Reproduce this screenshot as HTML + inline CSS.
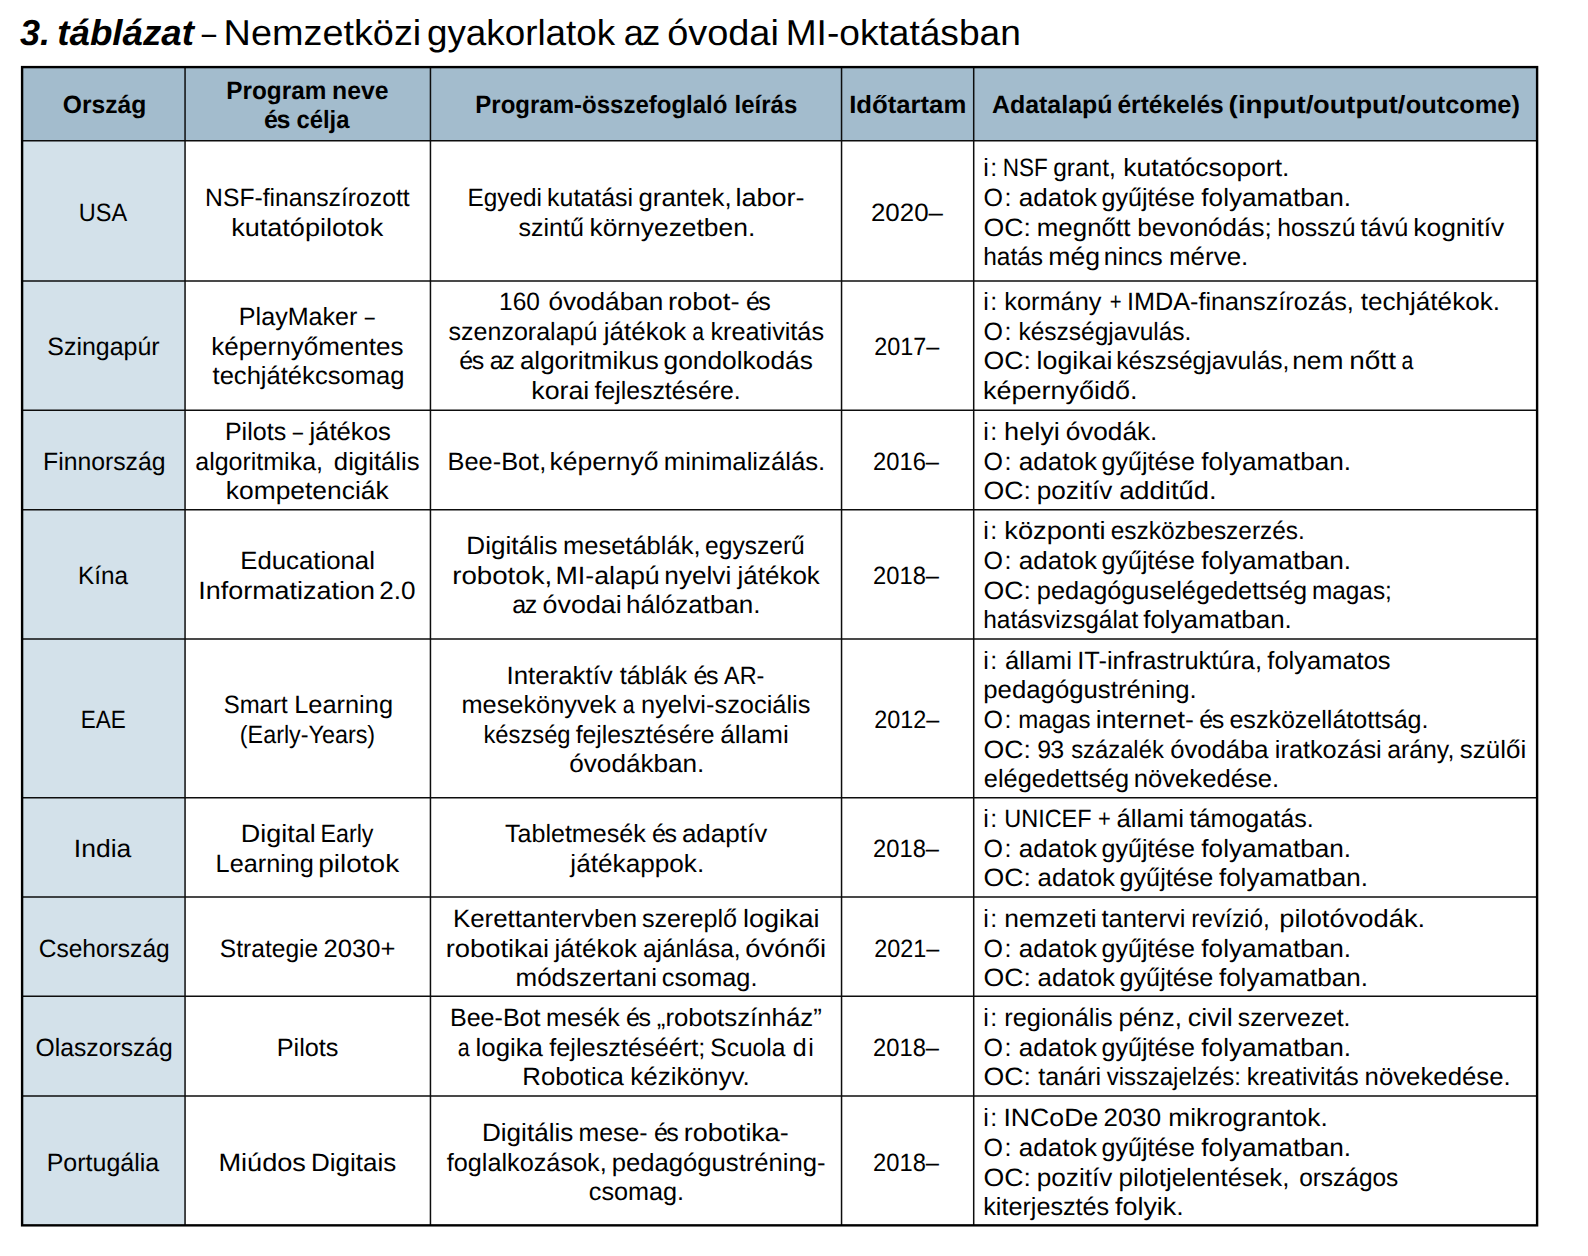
<!DOCTYPE html>
<html lang="hu"><head><meta charset="utf-8"><title>3. táblázat</title>
<style>
html,body{margin:0;padding:0;background:#fff;}
body{width:1588px;height:1256px;position:relative;overflow:hidden;font-family:'Liberation Sans',sans-serif;color:#000;}
svg{position:absolute;left:0;top:0;}
.t{position:absolute;left:0;top:0;white-space:pre;line-height:40px;font-kerning:normal;text-rendering:geometricPrecision;transform-origin:0 0;}
.r{font-size:25px;font-weight:400;}
.b{font-size:25px;font-weight:700;}
.tt{font-size:36px;font-weight:400;}
.tbi{font-size:36px;font-weight:700;font-style:italic;}
</style></head>
<body>
<svg width="1588" height="1256" viewBox="0 0 1588 1256">
<rect x="22.1" y="67.1" width="1515" height="73.6" fill="#a3bccd"/>
<rect x="22.1" y="140.7" width="162.95" height="1084.65" fill="#d3e1ea"/>
<line x1="22.1" y1="140.7" x2="1537.1" y2="140.7" stroke="#0d0d0d" stroke-width="1.5"/>
<line x1="22.1" y1="281.1" x2="1537.1" y2="281.1" stroke="#0d0d0d" stroke-width="1.5"/>
<line x1="22.1" y1="410.3" x2="1537.1" y2="410.3" stroke="#0d0d0d" stroke-width="1.5"/>
<line x1="22.1" y1="509.8" x2="1537.1" y2="509.8" stroke="#0d0d0d" stroke-width="1.5"/>
<line x1="22.1" y1="638.95" x2="1537.1" y2="638.95" stroke="#0d0d0d" stroke-width="1.5"/>
<line x1="22.1" y1="797.75" x2="1537.1" y2="797.75" stroke="#0d0d0d" stroke-width="1.5"/>
<line x1="22.1" y1="897" x2="1537.1" y2="897" stroke="#0d0d0d" stroke-width="1.5"/>
<line x1="22.1" y1="996.35" x2="1537.1" y2="996.35" stroke="#0d0d0d" stroke-width="1.5"/>
<line x1="22.1" y1="1096.1" x2="1537.1" y2="1096.1" stroke="#0d0d0d" stroke-width="1.5"/>
<line x1="185.05" y1="67.1" x2="185.05" y2="1225.35" stroke="#0d0d0d" stroke-width="1.5"/>
<line x1="430.45" y1="67.1" x2="430.45" y2="1225.35" stroke="#0d0d0d" stroke-width="1.5"/>
<line x1="841.55" y1="67.1" x2="841.55" y2="1225.35" stroke="#0d0d0d" stroke-width="1.5"/>
<line x1="973.7" y1="67.1" x2="973.7" y2="1225.35" stroke="#0d0d0d" stroke-width="1.5"/>
<rect x="22.1" y="67.1" width="1515" height="1158.25" fill="none" stroke="#000" stroke-width="2.4"/>
</svg>
<span class="t tbi" style="letter-spacing:-0.17px;transform:translate(20.06px,13.00px) scaleX(1.0000)">3. </span>
<span class="t tbi" style="transform:translate(57.23px,13.00px) scaleX(1.0202)">táblázat </span>
<span class="t tt" style="transform:translate(201.80px,13.00px) scaleX(0.7173)">– </span>
<span class="t tt" style="transform:translate(223.58px,13.00px) scaleX(1.0510)">Nemzetközi </span>
<span class="t tt" style="transform:translate(426.99px,13.00px) scaleX(1.0216)">gyakorlatok </span>
<span class="t tt" style="letter-spacing:-1.50px;transform:translate(623.73px,13.00px) scaleX(1.0000)">az </span>
<span class="t tt" style="transform:translate(667.19px,13.00px) scaleX(1.0526)">óvodai </span>
<span class="t tt" style="transform:translate(785.69px,13.00px) scaleX(1.0307)">MI-oktatásban</span>
<span class="t b" style="transform:translate(62.74px,85.00px) scaleX(0.9857)">Ország</span>
<span class="t b" style="transform:translate(226.30px,71.00px) scaleX(0.9729)">Program </span>
<span class="t b" style="transform:translate(332.07px,71.00px) scaleX(0.9904)">neve</span>
<span class="t b" style="letter-spacing:-1.50px;transform:translate(264.00px,100.00px) scaleX(1.0000)">és </span>
<span class="t b" style="transform:translate(296.53px,100.00px) scaleX(0.9519)">célja</span>
<span class="t b" style="transform:translate(475.35px,85.00px) scaleX(0.9602)">Program-összefoglaló </span>
<span class="t b" style="transform:translate(734.62px,85.00px) scaleX(0.9583)">leírás</span>
<span class="t b" style="transform:translate(849.15px,85.00px) scaleX(1.0280)">Időtartam</span>
<span class="t b" style="transform:translate(991.89px,85.00px) scaleX(0.9981)">Adatalapú </span>
<span class="t b" style="transform:translate(1117.50px,85.00px) scaleX(0.9791)">értékelés </span>
<span class="t b" style="transform:translate(1228.61px,85.00px) scaleX(1.1129)">(input/</span>
<span class="t b" style="transform:translate(1313.03px,85.00px) scaleX(1.0913)">output/</span>
<span class="t b" style="transform:translate(1405.64px,85.00px) scaleX(1.0162)">outcome)</span>
<span class="t r" style="transform:translate(78.73px,193.00px) scaleX(0.9413)">USA</span>
<span class="t r" style="transform:translate(47.29px,327.00px) scaleX(0.9982)">Szingapúr</span>
<span class="t r" style="transform:translate(42.99px,442.00px) scaleX(0.9911)">Finnország</span>
<span class="t r" style="transform:translate(78.01px,556.00px) scaleX(0.9727)">Kína</span>
<span class="t r" style="transform:translate(80.78px,700.00px) scaleX(0.9000)">EAE</span>
<span class="t r" style="transform:translate(73.83px,829.00px) scaleX(1.0604)">India</span>
<span class="t r" style="transform:translate(38.67px,929.00px) scaleX(0.9824)">Csehország</span>
<span class="t r" style="transform:translate(35.58px,1028.00px) scaleX(0.9876)">Olaszország</span>
<span class="t r" style="transform:translate(46.68px,1143.00px) scaleX(0.9991)">Portugália</span>
<span class="t r" style="transform:translate(205.10px,178.00px) scaleX(0.9879)">NSF-finanszírozott</span>
<span class="t r" style="transform:translate(231.13px,208.00px) scaleX(1.0833)">kutatópilotok</span>
<span class="t r" style="transform:translate(238.85px,297.00px) scaleX(1.0040)">PlayMaker </span>
<span class="t r" style="transform:translate(364.65px,297.00px) scaleX(0.7150)">–</span>
<span class="t r" style="transform:translate(211.20px,327.00px) scaleX(1.0401)">képernyőmentes</span>
<span class="t r" style="transform:translate(212.52px,356.00px) scaleX(1.0230)">techjátékcsomag</span>
<span class="t r" style="transform:translate(224.92px,412.00px) scaleX(1.0015)">Pilots </span>
<span class="t r" style="transform:translate(292.76px,412.00px) scaleX(0.7359)">– </span>
<span class="t r" style="transform:translate(309.42px,412.00px) scaleX(1.0271)">játékos</span>
<span class="t r" style="transform:translate(195.26px,442.00px) scaleX(0.9993)">algoritmika, </span>
<span class="t r" style="transform:translate(333.84px,442.00px) scaleX(1.0294)">digitális</span>
<span class="t r" style="transform:translate(225.84px,471.00px) scaleX(1.0555)">kompetenciák</span>
<span class="t r" style="transform:translate(240.27px,541.00px) scaleX(1.0301)">Educational</span>
<span class="t r" style="transform:translate(198.34px,571.00px) scaleX(1.0767)">Informatization </span>
<span class="t r" style="transform:translate(379.17px,571.00px) scaleX(1.0436)">2.0</span>
<span class="t r" style="transform:translate(223.66px,685.00px) scaleX(0.9584)">Smart </span>
<span class="t r" style="transform:translate(294.21px,685.00px) scaleX(1.0152)">Learning</span>
<span class="t r" style="transform:translate(239.82px,715.00px) scaleX(0.9335)">(Early-Years)</span>
<span class="t r" style="transform:translate(240.82px,814.00px) scaleX(1.0784)">Digital </span>
<span class="t r" style="transform:translate(320.48px,814.00px) scaleX(0.9308)">Early</span>
<span class="t r" style="transform:translate(215.58px,844.00px) scaleX(1.0104)">Learning </span>
<span class="t r" style="transform:translate(318.20px,844.00px) scaleX(1.1200)">pilotok</span>
<span class="t r" style="transform:translate(219.83px,929.00px) scaleX(0.9829)">Strategie </span>
<span class="t r" style="transform:translate(323.56px,929.00px) scaleX(1.0221)">2030+</span>
<span class="t r" style="transform:translate(276.66px,1028.00px) scaleX(1.0113)">Pilots</span>
<span class="t r" style="transform:translate(218.39px,1143.00px) scaleX(1.0865)">Miúdos </span>
<span class="t r" style="transform:translate(310.89px,1143.00px) scaleX(1.0407)">Digitais</span>
<span class="t r" style="transform:translate(467.52px,178.00px) scaleX(0.9748)">Egyedi </span>
<span class="t r" style="transform:translate(547.10px,178.00px) scaleX(0.9968)">kutatási </span>
<span class="t r" style="transform:translate(638.46px,178.00px) scaleX(1.0311)">grantek, </span>
<span class="t r" style="transform:translate(735.43px,178.00px) scaleX(1.0825)">labor-</span>
<span class="t r" style="transform:translate(518.53px,208.00px) scaleX(1.0012)">szintű </span>
<span class="t r" style="transform:translate(589.45px,208.00px) scaleX(1.0557)">környezetben.</span>
<span class="t r" style="transform:translate(499.10px,282.00px) scaleX(0.9783)">160 </span>
<span class="t r" style="transform:translate(548.40px,282.00px) scaleX(1.0463)">óvodában </span>
<span class="t r" style="transform:translate(667.91px,282.00px) scaleX(1.0981)">robot- </span>
<span class="t r" style="letter-spacing:-1.50px;transform:translate(745.97px,282.00px) scaleX(1.0000)">és</span>
<span class="t r" style="transform:translate(448.55px,312.00px) scaleX(1.0009)">szenzoralapú </span>
<span class="t r" style="transform:translate(603.84px,312.00px) scaleX(1.0388)">játékok </span>
<span class="t r" style="transform:translate(692.18px,312.00px) scaleX(0.8484)">a </span>
<span class="t r" style="transform:translate(710.40px,312.00px) scaleX(1.0097)">kreativitás</span>
<span class="t r" style="letter-spacing:-1.50px;transform:translate(459.23px,341.00px) scaleX(1.0000)">és </span>
<span class="t r" style="letter-spacing:-1.50px;transform:translate(489.81px,341.00px) scaleX(1.0000)">az </span>
<span class="t r" style="transform:translate(519.88px,341.00px) scaleX(1.0407)">algoritmikus </span>
<span class="t r" style="transform:translate(663.58px,341.00px) scaleX(1.0526)">gondolkodás</span>
<span class="t r" style="transform:translate(531.34px,371.00px) scaleX(1.0693)">korai </span>
<span class="t r" style="transform:translate(594.54px,371.00px) scaleX(0.9917)">fejlesztésére.</span>
<span class="t r" style="transform:translate(447.62px,442.00px) scaleX(1.0133)">Bee-Bot, </span>
<span class="t r" style="transform:translate(549.58px,442.00px) scaleX(1.0598)">képernyő </span>
<span class="t r" style="transform:translate(663.73px,442.00px) scaleX(1.0290)">minimalizálás.</span>
<span class="t r" style="transform:translate(466.30px,526.00px) scaleX(1.0433)">Digitális </span>
<span class="t r" style="transform:translate(563.03px,526.00px) scaleX(1.0196)">mesetáblák, </span>
<span class="t r" style="transform:translate(705.10px,526.00px) scaleX(0.9824)">egyszerű</span>
<span class="t r" style="transform:translate(452.17px,556.00px) scaleX(1.1078)">robotok, </span>
<span class="t r" style="transform:translate(555.46px,556.00px) scaleX(1.0716)">MI-alapú </span>
<span class="t r" style="transform:translate(664.36px,556.00px) scaleX(1.0465)">nyelvi </span>
<span class="t r" style="transform:translate(737.57px,556.00px) scaleX(1.0380)">játékok</span>
<span class="t r" style="letter-spacing:-1.50px;transform:translate(512.31px,585.00px) scaleX(1.0000)">az </span>
<span class="t r" style="transform:translate(542.59px,585.00px) scaleX(1.0745)">óvodai </span>
<span class="t r" style="transform:translate(625.95px,585.00px) scaleX(1.0415)">hálózatban.</span>
<span class="t r" style="transform:translate(506.50px,656.00px) scaleX(1.0337)">Interaktív </span>
<span class="t r" style="transform:translate(619.72px,656.00px) scaleX(1.0111)">táblák </span>
<span class="t r" style="letter-spacing:-1.50px;transform:translate(693.55px,656.00px) scaleX(1.0000)">és </span>
<span class="t r" style="transform:translate(724.02px,656.00px) scaleX(0.9367)">AR-</span>
<span class="t r" style="transform:translate(461.45px,685.00px) scaleX(1.0132)">mesekönyvek </span>
<span class="t r" style="transform:translate(622.81px,685.00px) scaleX(0.8503)">a </span>
<span class="t r" style="transform:translate(641.04px,685.00px) scaleX(1.0161)">nyelvi-szociális</span>
<span class="t r" style="transform:translate(483.41px,715.00px) scaleX(0.9505)">készség </span>
<span class="t r" style="transform:translate(575.72px,715.00px) scaleX(0.9892)">fejlesztésére </span>
<span class="t r" style="transform:translate(720.17px,715.00px) scaleX(1.0516)">állami</span>
<span class="t r" style="transform:translate(569.28px,744.00px) scaleX(1.0445)">óvodákban.</span>
<span class="t r" style="transform:translate(504.99px,814.00px) scaleX(1.0026)">Tabletmesék </span>
<span class="t r" style="letter-spacing:-1.50px;transform:translate(652.08px,814.00px) scaleX(1.0000)">és </span>
<span class="t r" style="transform:translate(681.88px,814.00px) scaleX(1.0413)">adaptív</span>
<span class="t r" style="transform:translate(570.35px,844.00px) scaleX(1.0469)">játékappok.</span>
<span class="t r" style="transform:translate(452.97px,899.00px) scaleX(1.0349)">Kerettantervben </span>
<span class="t r" style="transform:translate(641.92px,899.00px) scaleX(1.0068)">szereplő </span>
<span class="t r" style="transform:translate(742.95px,899.00px) scaleX(1.0804)">logikai</span>
<span class="t r" style="transform:translate(445.71px,929.00px) scaleX(1.0927)">robotikai </span>
<span class="t r" style="transform:translate(554.60px,929.00px) scaleX(1.0396)">játékok </span>
<span class="t r" style="transform:translate(642.92px,929.00px) scaleX(0.9762)">ajánlása, </span>
<span class="t r" style="transform:translate(745.34px,929.00px) scaleX(1.0963)">óvónői</span>
<span class="t r" style="transform:translate(515.53px,958.00px) scaleX(1.0387)">módszertani </span>
<span class="t r" style="transform:translate(661.80px,958.00px) scaleX(1.0119)">csomag.</span>
<span class="t r" style="transform:translate(449.94px,998.00px) scaleX(1.0026)">Bee-Bot </span>
<span class="t r" style="transform:translate(546.09px,998.00px) scaleX(1.0013)">mesék </span>
<span class="t r" style="letter-spacing:-1.50px;transform:translate(626.12px,998.00px) scaleX(1.0000)">és </span>
<span class="t r" style="transform:translate(656.80px,998.00px) scaleX(1.0329)">„robotszínház”</span>
<span class="t r" style="transform:translate(457.85px,1028.00px) scaleX(0.8580)">a </span>
<span class="t r" style="transform:translate(475.56px,1028.00px) scaleX(1.0314)">logika </span>
<span class="t r" style="transform:translate(549.22px,1028.00px) scaleX(1.0126)">fejlesztéséért; </span>
<span class="t r" style="transform:translate(710.30px,1028.00px) scaleX(0.9821)">Scuola </span>
<span class="t r" style="letter-spacing:1.50px;transform:translate(792.84px,1028.00px) scaleX(1.0000)">di</span>
<span class="t r" style="transform:translate(522.33px,1057.00px) scaleX(1.0294)">Robotica </span>
<span class="t r" style="transform:translate(630.27px,1057.00px) scaleX(1.0402)">kézikönyv.</span>
<span class="t r" style="transform:translate(481.97px,1113.00px) scaleX(1.0436)">Digitális </span>
<span class="t r" style="transform:translate(578.60px,1113.00px) scaleX(0.9936)">mese- </span>
<span class="t r" style="letter-spacing:-1.50px;transform:translate(653.90px,1113.00px) scaleX(1.0000)">és </span>
<span class="t r" style="transform:translate(683.87px,1113.00px) scaleX(1.0794)">robotika-</span>
<span class="t r" style="transform:translate(446.72px,1143.00px) scaleX(1.0099)">foglalkozások, </span>
<span class="t r" style="transform:translate(611.76px,1143.00px) scaleX(1.0256)">pedagógustréning-</span>
<span class="t r" style="transform:translate(588.78px,1172.00px) scaleX(1.0090)">csomag.</span>
<span class="t r" style="transform:translate(870.95px,193.00px) scaleX(1.0360)">2020–</span>
<span class="t r" style="transform:translate(874.15px,327.00px) scaleX(0.9359)">2017–</span>
<span class="t r" style="transform:translate(873.02px,442.00px) scaleX(0.9495)">2016–</span>
<span class="t r" style="transform:translate(873.02px,556.00px) scaleX(0.9495)">2018–</span>
<span class="t r" style="transform:translate(874.15px,700.00px) scaleX(0.9359)">2012–</span>
<span class="t r" style="transform:translate(873.02px,829.00px) scaleX(0.9495)">2018–</span>
<span class="t r" style="transform:translate(874.15px,929.00px) scaleX(0.9359)">2021–</span>
<span class="t r" style="transform:translate(873.02px,1028.00px) scaleX(0.9495)">2018–</span>
<span class="t r" style="transform:translate(873.02px,1143.00px) scaleX(0.9495)">2018–</span>
<span class="t r" style="letter-spacing:1.50px;transform:translate(983.28px,148.00px) scaleX(1.0000)">i: </span>
<span class="t r" style="transform:translate(1002.77px,148.00px) scaleX(0.9000)">NSF </span>
<span class="t r" style="transform:translate(1053.24px,148.00px) scaleX(0.9771)">grant, </span>
<span class="t r" style="transform:translate(1123.17px,148.00px) scaleX(1.0589)">kutatócsoport.</span>
<span class="t r" style="letter-spacing:1.50px;transform:translate(983.61px,178.00px) scaleX(1.0000)">O: </span>
<span class="t r" style="transform:translate(1018.76px,178.00px) scaleX(1.0424)">adatok </span>
<span class="t r" style="transform:translate(1101.53px,178.00px) scaleX(1.0018)">gyűjtése </span>
<span class="t r" style="transform:translate(1201.36px,178.00px) scaleX(1.0458)">folyamatban.</span>
<span class="t r" style="transform:translate(983.50px,208.00px) scaleX(1.0678)">OC: </span>
<span class="t r" style="transform:translate(1036.79px,208.00px) scaleX(1.0354)">megnőtt </span>
<span class="t r" style="transform:translate(1137.21px,208.00px) scaleX(1.0408)">bevonódás; </span>
<span class="t r" style="transform:translate(1277.14px,208.00px) scaleX(0.9891)">hosszú </span>
<span class="t r" style="transform:translate(1360.60px,208.00px) scaleX(1.0120)">távú </span>
<span class="t r" style="transform:translate(1413.26px,208.00px) scaleX(1.0569)">kognitív</span>
<span class="t r" style="transform:translate(983.16px,237.00px) scaleX(0.9787)">hatás </span>
<span class="t r" style="transform:translate(1048.35px,237.00px) scaleX(1.0651)">még </span>
<span class="t r" style="transform:translate(1103.70px,237.00px) scaleX(1.0122)">nincs </span>
<span class="t r" style="transform:translate(1169.01px,237.00px) scaleX(1.0375)">mérve.</span>
<span class="t r" style="letter-spacing:1.50px;transform:translate(983.28px,282.00px) scaleX(1.0000)">i: </span>
<span class="t r" style="transform:translate(1004.24px,282.00px) scaleX(1.0136)">kormány </span>
<span class="t r" style="transform:translate(1109.75px,282.00px) scaleX(0.8099)">+ </span>
<span class="t r" style="transform:translate(1127.07px,282.00px) scaleX(1.0077)">IMDA-finanszírozás, </span>
<span class="t r" style="transform:translate(1360.68px,282.00px) scaleX(1.0444)">techjátékok.</span>
<span class="t r" style="letter-spacing:1.50px;transform:translate(983.61px,312.00px) scaleX(1.0000)">O: </span>
<span class="t r" style="transform:translate(1018.43px,312.00px) scaleX(0.9800)">készségjavulás.</span>
<span class="t r" style="transform:translate(983.50px,341.00px) scaleX(1.0678)">OC: </span>
<span class="t r" style="transform:translate(1036.58px,341.00px) scaleX(1.0716)">logikai </span>
<span class="t r" style="transform:translate(1116.23px,341.00px) scaleX(0.9810)">készségjavulás, </span>
<span class="t r" style="transform:translate(1292.21px,341.00px) scaleX(1.0525)">nem </span>
<span class="t r" style="transform:translate(1349.27px,341.00px) scaleX(1.1200)">nőtt </span>
<span class="t r" style="transform:translate(1401.45px,341.00px) scaleX(0.8533)">a</span>
<span class="t r" style="transform:translate(982.97px,371.00px) scaleX(1.0802)">képernyőidő.</span>
<span class="t r" style="letter-spacing:1.50px;transform:translate(983.28px,412.00px) scaleX(1.0000)">i: </span>
<span class="t r" style="transform:translate(1004.11px,412.00px) scaleX(1.0846)">helyi </span>
<span class="t r" style="transform:translate(1065.65px,412.00px) scaleX(1.0473)">óvodák.</span>
<span class="t r" style="letter-spacing:1.50px;transform:translate(983.61px,442.00px) scaleX(1.0000)">O: </span>
<span class="t r" style="transform:translate(1018.76px,442.00px) scaleX(1.0424)">adatok </span>
<span class="t r" style="transform:translate(1101.53px,442.00px) scaleX(1.0018)">gyűjtése </span>
<span class="t r" style="transform:translate(1201.36px,442.00px) scaleX(1.0458)">folyamatban.</span>
<span class="t r" style="transform:translate(983.50px,471.00px) scaleX(1.0678)">OC: </span>
<span class="t r" style="transform:translate(1036.78px,471.00px) scaleX(1.0458)">pozitív </span>
<span class="t r" style="transform:translate(1119.14px,471.00px) scaleX(1.0957)">additűd.</span>
<span class="t r" style="letter-spacing:1.50px;transform:translate(983.28px,511.00px) scaleX(1.0000)">i: </span>
<span class="t r" style="transform:translate(1004.30px,511.00px) scaleX(1.0884)">központi </span>
<span class="t r" style="transform:translate(1110.64px,511.00px) scaleX(0.9775)">eszközbeszerzés.</span>
<span class="t r" style="letter-spacing:1.50px;transform:translate(983.61px,541.00px) scaleX(1.0000)">O: </span>
<span class="t r" style="transform:translate(1018.76px,541.00px) scaleX(1.0424)">adatok </span>
<span class="t r" style="transform:translate(1101.53px,541.00px) scaleX(1.0018)">gyűjtése </span>
<span class="t r" style="transform:translate(1201.36px,541.00px) scaleX(1.0458)">folyamatban.</span>
<span class="t r" style="transform:translate(983.50px,571.00px) scaleX(1.0678)">OC: </span>
<span class="t r" style="transform:translate(1036.83px,571.00px) scaleX(1.0125)">pedagóguselégedettség </span>
<span class="t r" style="transform:translate(1311.95px,571.00px) scaleX(0.9743)">magas;</span>
<span class="t r" style="transform:translate(983.17px,600.00px) scaleX(0.9788)">hatásvizsgálat </span>
<span class="t r" style="transform:translate(1143.18px,600.00px) scaleX(1.0383)">folyamatban.</span>
<span class="t r" style="letter-spacing:1.50px;transform:translate(983.28px,641.00px) scaleX(1.0000)">i: </span>
<span class="t r" style="transform:translate(1004.91px,641.00px) scaleX(1.0249)">állami </span>
<span class="t r" style="transform:translate(1077.32px,641.00px) scaleX(1.0147)">IT-infrastruktúra, </span>
<span class="t r" style="transform:translate(1267.35px,641.00px) scaleX(1.0194)">folyamatos</span>
<span class="t r" style="transform:translate(983.24px,670.00px) scaleX(1.0306)">pedagógustréning.</span>
<span class="t r" style="letter-spacing:1.50px;transform:translate(983.61px,700.00px) scaleX(1.0000)">O: </span>
<span class="t r" style="transform:translate(1018.32px,700.00px) scaleX(0.9606)">magas </span>
<span class="t r" style="transform:translate(1095.84px,700.00px) scaleX(1.0686)">internet- </span>
<span class="t r" style="letter-spacing:-1.50px;transform:translate(1199.23px,700.00px) scaleX(1.0000)">és </span>
<span class="t r" style="transform:translate(1229.44px,700.00px) scaleX(1.0016)">eszközellátottság.</span>
<span class="t r" style="transform:translate(983.50px,730.00px) scaleX(1.0678)">OC: </span>
<span class="t r" style="letter-spacing:-0.85px;transform:translate(1037.16px,730.00px) scaleX(1.0000)">93 </span>
<span class="t r" style="transform:translate(1071.19px,730.00px) scaleX(0.9520)">százalék </span>
<span class="t r" style="transform:translate(1170.22px,730.00px) scaleX(1.0235)">óvodába </span>
<span class="t r" style="transform:translate(1274.85px,730.00px) scaleX(1.0113)">iratkozási </span>
<span class="t r" style="transform:translate(1387.15px,730.00px) scaleX(0.9927)">arány, </span>
<span class="t r" style="transform:translate(1459.87px,730.00px) scaleX(1.0380)">szülői</span>
<span class="t r" style="transform:translate(983.84px,759.00px) scaleX(1.0144)">elégedettség </span>
<span class="t r" style="transform:translate(1133.63px,759.00px) scaleX(1.0268)">növekedése.</span>
<span class="t r" style="letter-spacing:1.50px;transform:translate(983.28px,799.00px) scaleX(1.0000)">i: </span>
<span class="t r" style="transform:translate(1004.20px,799.00px) scaleX(0.9396)">UNICEF </span>
<span class="t r" style="transform:translate(1098.05px,799.00px) scaleX(0.8757)">+ </span>
<span class="t r" style="transform:translate(1116.51px,799.00px) scaleX(1.0324)">állami </span>
<span class="t r" style="transform:translate(1189.56px,799.00px) scaleX(1.0035)">támogatás.</span>
<span class="t r" style="letter-spacing:1.50px;transform:translate(983.61px,829.00px) scaleX(1.0000)">O: </span>
<span class="t r" style="transform:translate(1018.76px,829.00px) scaleX(1.0424)">adatok </span>
<span class="t r" style="transform:translate(1101.53px,829.00px) scaleX(1.0018)">gyűjtése </span>
<span class="t r" style="transform:translate(1201.36px,829.00px) scaleX(1.0458)">folyamatban.</span>
<span class="t r" style="transform:translate(983.50px,858.00px) scaleX(1.0678)">OC: </span>
<span class="t r" style="transform:translate(1037.54px,858.00px) scaleX(1.0321)">adatok </span>
<span class="t r" style="transform:translate(1119.51px,858.00px) scaleX(1.0079)">gyűjtése </span>
<span class="t r" style="transform:translate(1218.91px,858.00px) scaleX(1.0411)">folyamatban.</span>
<span class="t r" style="letter-spacing:1.50px;transform:translate(983.28px,899.00px) scaleX(1.0000)">i: </span>
<span class="t r" style="transform:translate(1004.21px,899.00px) scaleX(1.0571)">nemzeti </span>
<span class="t r" style="transform:translate(1101.47px,899.00px) scaleX(1.0244)">tantervi </span>
<span class="t r" style="transform:translate(1191.22px,899.00px) scaleX(0.9756)">revízió, </span>
<span class="t r" style="transform:translate(1279.27px,899.00px) scaleX(1.0938)">pilotóvodák.</span>
<span class="t r" style="letter-spacing:1.50px;transform:translate(983.61px,929.00px) scaleX(1.0000)">O: </span>
<span class="t r" style="transform:translate(1018.76px,929.00px) scaleX(1.0424)">adatok </span>
<span class="t r" style="transform:translate(1101.53px,929.00px) scaleX(1.0018)">gyűjtése </span>
<span class="t r" style="transform:translate(1201.36px,929.00px) scaleX(1.0458)">folyamatban.</span>
<span class="t r" style="transform:translate(983.50px,958.00px) scaleX(1.0678)">OC: </span>
<span class="t r" style="transform:translate(1037.54px,958.00px) scaleX(1.0321)">adatok </span>
<span class="t r" style="transform:translate(1119.51px,958.00px) scaleX(1.0079)">gyűjtése </span>
<span class="t r" style="transform:translate(1218.91px,958.00px) scaleX(1.0411)">folyamatban.</span>
<span class="t r" style="letter-spacing:1.50px;transform:translate(983.28px,998.00px) scaleX(1.0000)">i: </span>
<span class="t r" style="transform:translate(1004.28px,998.00px) scaleX(1.0131)">regionális </span>
<span class="t r" style="transform:translate(1118.59px,998.00px) scaleX(1.0344)">pénz, </span>
<span class="t r" style="transform:translate(1187.87px,998.00px) scaleX(1.0742)">civil </span>
<span class="t r" style="transform:translate(1237.83px,998.00px) scaleX(0.9889)">szervezet.</span>
<span class="t r" style="letter-spacing:1.50px;transform:translate(983.61px,1028.00px) scaleX(1.0000)">O: </span>
<span class="t r" style="transform:translate(1018.76px,1028.00px) scaleX(1.0424)">adatok </span>
<span class="t r" style="transform:translate(1101.53px,1028.00px) scaleX(1.0018)">gyűjtése </span>
<span class="t r" style="transform:translate(1201.36px,1028.00px) scaleX(1.0458)">folyamatban.</span>
<span class="t r" style="transform:translate(983.50px,1057.00px) scaleX(1.0678)">OC: </span>
<span class="t r" style="transform:translate(1038.18px,1057.00px) scaleX(1.0075)">tanári </span>
<span class="t r" style="transform:translate(1106.71px,1057.00px) scaleX(0.9557)">visszajelzés: </span>
<span class="t r" style="transform:translate(1246.73px,1057.00px) scaleX(0.9938)">kreativitás </span>
<span class="t r" style="transform:translate(1364.59px,1057.00px) scaleX(1.0301)">növekedése.</span>
<span class="t r" style="letter-spacing:1.50px;transform:translate(983.28px,1098.00px) scaleX(1.0000)">i: </span>
<span class="t r" style="transform:translate(1003.46px,1098.00px) scaleX(1.0656)">INCoDe </span>
<span class="t r" style="transform:translate(1103.58px,1098.00px) scaleX(1.0351)">2030 </span>
<span class="t r" style="transform:translate(1168.24px,1098.00px) scaleX(1.0531)">mikrograntok.</span>
<span class="t r" style="letter-spacing:1.50px;transform:translate(983.61px,1128.00px) scaleX(1.0000)">O: </span>
<span class="t r" style="transform:translate(1018.76px,1128.00px) scaleX(1.0424)">adatok </span>
<span class="t r" style="transform:translate(1101.53px,1128.00px) scaleX(1.0018)">gyűjtése </span>
<span class="t r" style="transform:translate(1201.36px,1128.00px) scaleX(1.0458)">folyamatban.</span>
<span class="t r" style="transform:translate(983.50px,1158.00px) scaleX(1.0678)">OC: </span>
<span class="t r" style="transform:translate(1036.78px,1158.00px) scaleX(1.0458)">pozitív </span>
<span class="t r" style="transform:translate(1118.52px,1158.00px) scaleX(1.0333)">pilotjelentések, </span>
<span class="t r" style="transform:translate(1299.14px,1158.00px) scaleX(0.9774)">országos</span>
<span class="t r" style="transform:translate(983.20px,1187.00px) scaleX(1.0075)">kiterjesztés </span>
<span class="t r" style="transform:translate(1115.04px,1187.00px) scaleX(1.0751)">folyik.</span>
</body></html>
